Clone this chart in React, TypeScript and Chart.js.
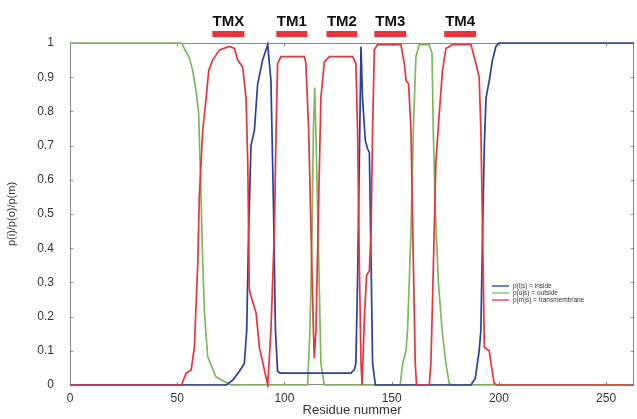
import React, { useEffect, useRef } from "react";
import { Chart, registerables } from "chart.js";

Chart.register(...registerables);

// Posterior probabilities per residue: [residue, probability]
const insideProb: [number, number][] = [
  [0, 0], [73, 0], [76, 0.015], [79, 0.04], [81.3, 0.063], [82.4, 0.16], [83.3, 0.45],
  [84.4, 0.7], [86, 0.745], [87.5, 0.88], [89.8, 0.95], [92.2, 0.995], [93.7, 0.89],
  [94.8, 0.55], [95.8, 0.16], [96.8, 0.04], [98, 0.035], [131, 0.035], [132.6, 0.045],
  [133.3, 0.063], [134.1, 0.31], [134.9, 0.65], [135.7, 0.99], [136.4, 0.84], [137.7, 0.715],
  [138.8, 0.69], [139.6, 0.68], [140.4, 0.36], [141.1, 0.063], [142.4, 0], [187, 0],
  [189, 0.02], [190.8, 0.1], [191.6, 0.16], [192.4, 0.45], [193.2, 0.7], [194, 0.84],
  [195.5, 0.89], [197, 0.95], [198.6, 0.99], [200, 1], [263, 1],
];

const outsideProb: [number, number][] = [
  [0, 1], [52, 1], [55.7, 0.955], [57.2, 0.92], [58.8, 0.86], [60, 0.795], [61.1, 0.55],
  [61.9, 0.36], [62.7, 0.21], [64.2, 0.083], [68, 0.024], [73.5, 0.005], [75, 0],
  [110.8, 0], [111.9, 0.16], [112.9, 0.45], [113.5, 0.745], [114.1, 0.87], [115, 0.65],
  [116, 0.36], [117, 0.063], [118.6, 0], [154, 0], [155.1, 0.063], [156.7, 0.1],
  [157.4, 0.16], [159, 0.45], [160.1, 0.745], [161.3, 0.96], [162.9, 0.995], [167.5, 0.995],
  [168.8, 0.97], [169.4, 0.745], [170.4, 0.5], [171.8, 0.3], [173.5, 0.16], [175.3, 0.063],
  [176.8, 0.005], [178, 0], [263, 0],
];

const membraneProb: [number, number][] = [
  [0, 0], [52, 0], [54.1, 0.034], [56.5, 0.044], [58, 0.11], [59.6, 0.36], [60.3, 0.55],
  [61.9, 0.745], [63.5, 0.84], [64.7, 0.92], [66.5, 0.95], [69.7, 0.98], [74.3, 0.99],
  [76.7, 0.984], [78.2, 0.95], [80.5, 0.93], [82.1, 0.84], [82.9, 0.65], [83.6, 0.28],
  [84.4, 0.26], [86.8, 0.21], [88.3, 0.11], [92.2, 0], [93.7, 0.16], [95.3, 0.45],
  [96.1, 0.745], [96.8, 0.94], [98.4, 0.96], [109.3, 0.96], [110, 0.94], [111.3, 0.745],
  [112.4, 0.45], [113.5, 0.16], [113.9, 0.078], [114.7, 0.16], [116, 0.55], [117, 0.84],
  [118.6, 0.945], [120.9, 0.96], [131.8, 0.96], [133.3, 0.94], [134.1, 0.745], [134.9, 0.36],
  [135.7, 0.063], [136.2, 0], [137.3, 0.2], [138.3, 0.32], [139.6, 0.335], [140.4, 0.45],
  [141.1, 0.745], [141.9, 0.98], [143.4, 0.995], [154.3, 0.995], [155.9, 0.94], [156.7, 0.89],
  [157.9, 0.88], [159, 0.745], [160.1, 0.36], [161, 0.063], [161.6, 0], [167.5, 0],
  [168.3, 0.063], [169.1, 0.26], [170.6, 0.65], [172.2, 0.795], [173.7, 0.92], [175.3, 0.984],
  [178.4, 0.995], [187, 0.995], [189.3, 0.94], [190.8, 0.9], [191.6, 0.745], [192.4, 0.45],
  [193.2, 0.11], [195.5, 0.1], [196.3, 0.063], [197.8, 0.005], [199, 0], [263, 0],
];

const seriesLabels = ["p(i|s) = inside", "p(o|s) = outside", "p(m|s) = transmembrane"];
const seriesColors = ["#2b3f9e", "#7cba5c", "#e8343c"];

// Transmembrane segment annotations (residue ranges)
const tmLabels = ["TMX", "TM1", "TM2", "TM3", "TM4"];
const tmStart = [66.4, 96.2, 119.6, 141.9, 174.5];
const tmEnd = [81.3, 110.7, 134, 156.8, 189.4];

const xMin = 0;
const xMax = 263;
const yTicksStep = 0.1;
const xTicksStep = 50;

const framePlugin = {
  id: "frame",
  beforeDatasetsDraw(chart: any) {
    const { ctx, chartArea: a, scales } = chart;
    ctx.save();
    ctx.strokeStyle = "#888";
    ctx.lineWidth = 1;
    ctx.strokeRect(a.left + 0.5, a.top + 0.5, a.right - a.left - 1, a.bottom - a.top - 1);
    ctx.beginPath();
    scales.y.ticks.forEach((t: any) => {
      const py = Math.round(scales.y.getPixelForValue(t.value)) + 0.5;
      ctx.moveTo(a.left, py);
      ctx.lineTo(a.left + 3, py);
      ctx.moveTo(a.right, py);
      ctx.lineTo(a.right - 3, py);
    });
    scales.x.ticks.forEach((t: any) => {
      const px = Math.round(scales.x.getPixelForValue(t.value)) + 0.5;
      ctx.moveTo(px, a.bottom);
      ctx.lineTo(px, a.bottom - 3);
      ctx.moveTo(px, a.top);
      ctx.lineTo(px, a.top + 3);
    });
    ctx.stroke();
    ctx.restore();
  },
};

const tmPlugin = {
  id: "tmSegments",
  afterDraw(chart: any) {
    const { ctx, scales } = chart;
    ctx.save();
    ctx.textAlign = "center";
    ctx.textBaseline = "middle";
    ctx.font = "bold 15px 'Liberation Sans', Arial, sans-serif";
    tmLabels.forEach((lab, i) => {
      const x0 = scales.x.getPixelForValue(tmStart[i]);
      const x1 = scales.x.getPixelForValue(tmEnd[i]);
      ctx.fillStyle = "#e8343c";
      ctx.fillRect(x0, 31, x1 - x0, 6);
      ctx.fillStyle = "#111";
      ctx.fillText(lab, (x0 + x1) / 2, 22);
    });
    ctx.restore();
  },
};

const legendPlugin = {
  id: "miniLegend",
  afterDraw(chart: any) {
    const { ctx } = chart;
    ctx.save();
    ctx.font = "6.5px 'Liberation Sans', Arial, sans-serif";
    ctx.textBaseline = "middle";
    ctx.textAlign = "left";
    seriesLabels.forEach((lab, i) => {
      const y = 286 + i * 7;
      ctx.strokeStyle = seriesColors[i];
      ctx.lineWidth = 1.3;
      ctx.beginPath();
      ctx.moveTo(492, y);
      ctx.lineTo(509, y);
      ctx.stroke();
      ctx.fillStyle = "#333";
      ctx.fillText(lab, 513, y);
    });
    ctx.restore();
  },
};

export default function App() {
  const ref = useRef<HTMLCanvasElement | null>(null);
  useEffect(() => {
    if (!ref.current) return;
    const toPts = (arr: [number, number][]) => arr.map(([x, y]) => ({ x, y }));
    const chart = new Chart(ref.current, {
      type: "line",
      data: {
        datasets: [
          { label: seriesLabels[0], data: toPts(insideProb), borderColor: seriesColors[0], order: 2 },
          { label: seriesLabels[1], data: toPts(outsideProb), borderColor: seriesColors[1], order: 3 },
          { label: seriesLabels[2], data: toPts(membraneProb), borderColor: seriesColors[2], order: 1 },
        ].map((d) => ({ ...d, borderWidth: 1.7, pointRadius: 0, tension: 0, fill: false, clip: 3 })),
      },
      options: {
        responsive: false,
        animation: false,
        layout: { padding: { top: 43, right: 3, left: 0, bottom: 0 } },
        plugins: { legend: { display: false }, tooltip: { enabled: false } },
        scales: {
          x: {
            type: "linear",
            min: xMin,
            max: xMax,
            grid: { display: false, drawTicks: false },
            border: { display: false },
            ticks: {
              stepSize: xTicksStep,
              includeBounds: false,
              padding: 6,
              color: "#333",
              font: { family: "'Liberation Sans', Arial, sans-serif", size: 12 },
              maxRotation: 0,
            },
            title: {
              display: true,
              text: "Residue nummer",
              color: "#333",
              font: { family: "'Liberation Sans', Arial, sans-serif", size: 13 },
              padding: { top: 0, bottom: 1 },
            },
            afterFit: (s: any) => {
              s.height = 34;
            },
          },
          y: {
            min: 0,
            max: 1,
            grid: { display: false, drawTicks: false },
            border: { display: false },
            ticks: {
              stepSize: yTicksStep,
              padding: 16,
              color: "#333",
              font: { family: "'Liberation Sans', Arial, sans-serif", size: 12 },
              callback: (v: any) => String(Number(Number(v).toFixed(1))),
            },
            title: {
              display: true,
              text: "p(i)/p(o)/p(m)",
              color: "#333",
              font: { family: "'Liberation Sans', Arial, sans-serif", size: 11 },
              padding: { top: 5, bottom: 0 },
            },
            afterFit: (s: any) => {
              s.width = 70;
            },
          },
        },
      },
      plugins: [framePlugin, tmPlugin, legendPlugin],
    });
    return () => chart.destroy();
  }, []);
  return (
    <div style={{ position: "fixed", left: 0, top: 0, width: 637, height: 419, background: "#fff" }}>
      <canvas ref={ref} width={637} height={419} style={{ display: "block" }} />
    </div>
  );
}
